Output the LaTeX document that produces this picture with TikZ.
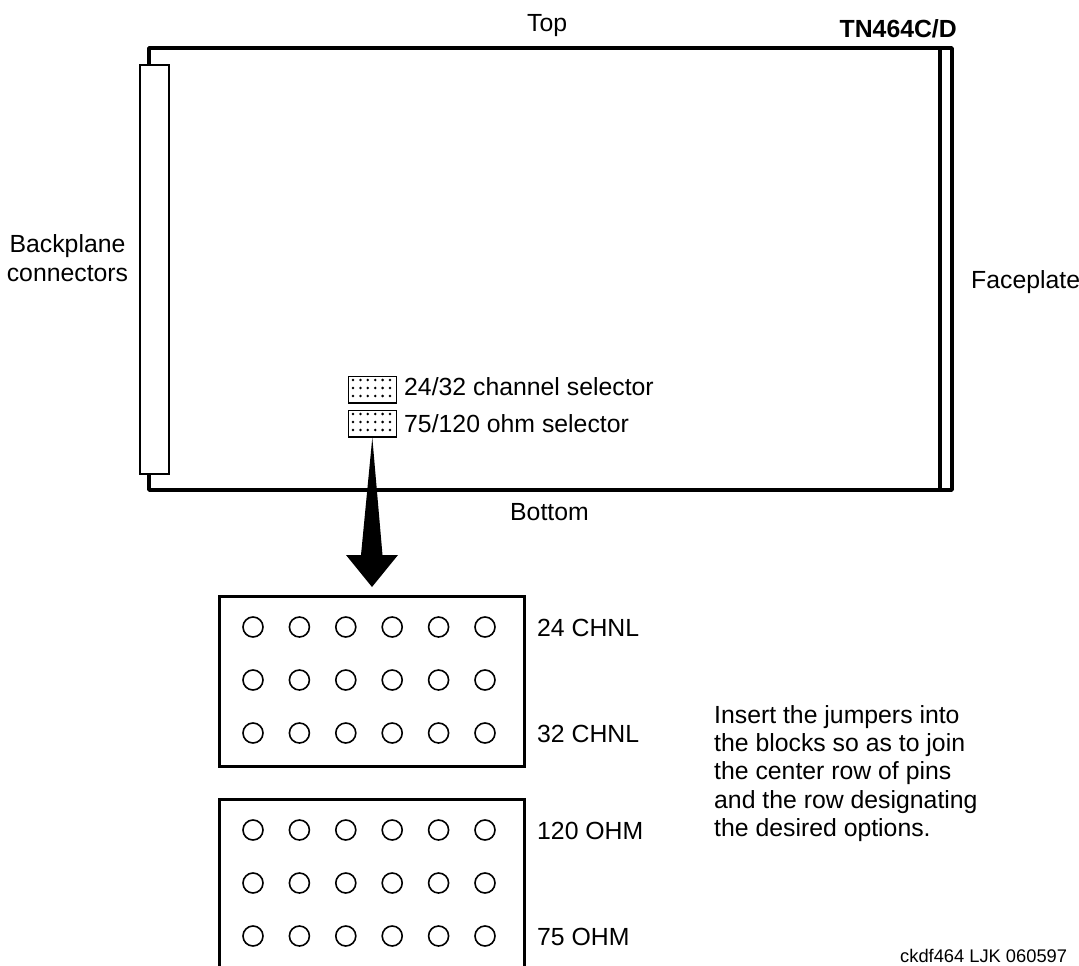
\documentclass[tikz,border=0pt]{standalone}
\usepackage{fontspec}
\setmainfont{Liberation Sans}
\tikzset{
 lbl/.style={inner sep=0pt,font=\fontsize{24.8}{28.4}\selectfont,text=black,anchor=base west},
 thick3/.style={line width=3.4pt,line join=round},
 thin2/.style={line width=2pt},
 pin/.style={circle,draw,line width=1.6pt,minimum size=20pt,inner sep=0pt},
 selbox/.style={draw,line width=1.6pt,minimum width=48pt,minimum height=26.5pt,inner sep=0pt,anchor=north west},
 blockbox/.style={draw,line width=3.4pt,minimum width=305pt,inner sep=0pt,anchor=north west},
}
\begin{document}
\begin{tikzpicture}[x=1pt,y=-1pt]
\useasboundingbox (0,0) rectangle (1079,966);
\node[lbl] (top) at (527,32) {Top};
\node[lbl,anchor=base east] (model) at (957,38) {\bfseries TN464C/D};
\node[lbl] (bottom) at (510,520) {Bottom};
\node[lbl,anchor=base] (bp) at (67.5,252) {Backplane};
\node[lbl,anchor=base] (bp2) at (67.5,281) {connectors};
\node[lbl] (fp) at (971,288) {Faceplate};
% board
\draw[thick3] (940,48) -- (940,490);
\draw[thick3] (149,64) -- (149,48) -- (952,48) -- (952,490) -- (149,490) -- (149,472);
\node[draw,thin2,fill=white,minimum width=28.5pt,minimum height=408pt,inner sep=0pt,anchor=north west] (conn) at (139,64.5) {};
% selectors
\node[selbox] (s1) at (347.5,375.5) {};
\node[selbox] (s2) at (347.5,409.5) {};
\foreach \yy in {375.5,409.5}{
 \foreach \xx in {0,...,5}{
  \foreach \rr in {4.5,12.5,20.5}{
   \fill ({353+\xx*7.4},{\yy+\rr}) circle (1.4pt);
  }
 }
}
\node[lbl] (s1l) at (404,395) {24/32 channel selector};
\node[lbl] (s2l) at (404,432) {75/120 ohm selector};
% arrow
\coordinate (atip) at (372,587);
\fill (s2.south) -- (382.5,555) -- (398,555) -- (atip) -- (346,555) -- (361,555) -- cycle;
% blocks
\node[blockbox,minimum height=170pt] (b1) at (218,595) {};
\node[blockbox,minimum height=200pt] (b2) at (218,798) {};
\foreach \bb/\yb in {a/627,b/680,c/733,d/830,e/883,f/936}{
 \foreach \xx in {0,...,5}{
  \node[pin] (p\bb\xx) at ({253+\xx*46.4},\yb) {};
 }
}
\node[lbl] (l1) at (537,636) {24 CHNL};
\node[lbl] (l2) at (537,742) {32 CHNL};
\node[lbl] (l3) at (537,839) {120 OHM};
\node[lbl] (l4) at (537,945) {75 OHM};
\node[lbl,anchor=north west,align=left] (note) at (714,705) {Insert the jumpers into\\the blocks so as to join\\the center row of pins\\and the row designating\\the desired options.};
\node[lbl,font=\fontsize{18.3}{20}\selectfont] (ck) at (900,962) {ckdf464 LJK 060597};
\end{tikzpicture}
\end{document}
